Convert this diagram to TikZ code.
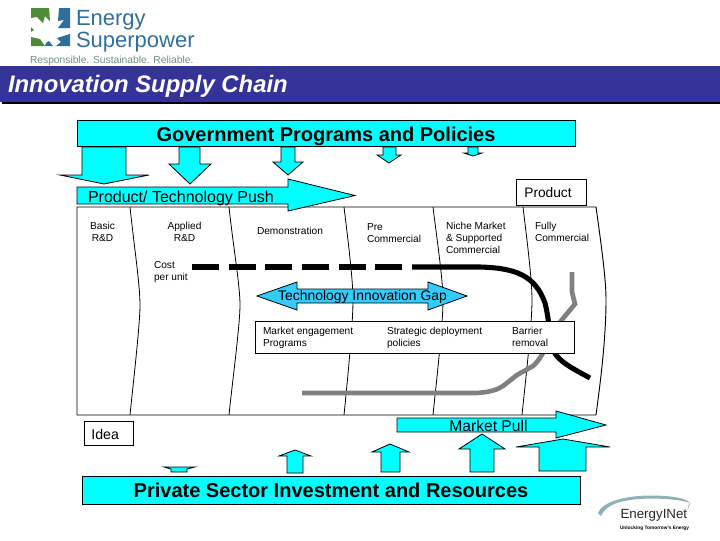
\documentclass[tikz,border=0pt]{standalone}
\usepackage{fontspec}
\setmainfont{Liberation Sans}
\definecolor{cy}{HTML}{00FFFF}
\definecolor{gapc}{HTML}{33CCFF}
\definecolor{banner}{HTML}{333399}
\definecolor{greyc}{HTML}{808080}
\definecolor{logob}{HTML}{2F6F9F}
\definecolor{logog}{HTML}{4F8A3A}
\definecolor{logot}{HTML}{6F8F7F}
\definecolor{swoosh}{HTML}{8FB0B8}
\tikzset{
 px/.style={inner sep=0pt,outer sep=0pt},
 small/.style={px,font=\fontsize{7.6pt}{9pt}\selectfont,align=left,anchor=north west},
 bigbox/.style={draw=black,fill=cy,line width=0.7pt,px},
 plainbox/.style={draw=black,fill=white,line width=0.7pt,px},
 cyarrow/.style={draw=black,fill=cy,line width=0.6pt,line join=miter},
 divider/.style={draw=black,line width=0.6pt},
}
\begin{document}
\begin{tikzpicture}[x=0.75pt,y=-0.75pt]
\useasboundingbox (0,0) rectangle (720,540);
% logo
\fill[logog] (31,8) -- (49,8) -- (50,21) -- (45,16) -- (43,23) -- (37,17) -- (31,18) -- cycle;
\fill[logob] (59,8) -- (70,8) -- (70,28) -- (58,28) -- (64,20) -- (58,21) -- cycle;
\fill[logog] (31,27) -- (34,30) -- (31,32) -- cycle;
\fill[logog] (31,37) -- (40,39) -- (45,46) -- (31,46) -- cycle;
\fill[logob] (57,38) -- (70,34) -- (70,46) -- (56,46) -- (61,42) -- cycle;
\fill[logob] (46,43) -- (49,41) -- (53,46) -- (45,46) -- cycle;
\node[px,text=logob,font=\fontsize{16.5pt}{18pt}\selectfont,anchor=base west] (lgE) at (76,25) {Energy};
\node[px,text=logob,font=\fontsize{16.5pt}{18pt}\selectfont,anchor=base west] (lgS) at (76,47) {Superpower};
\node[px,text=logot,font=\fontsize{7.7pt}{8pt}\selectfont,anchor=base west] (lgT) at (30,63) {Responsible. Sustainable. Reliable.};
% banner
\fill[black] (2,68) rectangle (720,104);
\fill[banner] (0,66) rectangle (720,102);
\node[px,text=white,font=\fontsize{17.9pt}{20pt}\selectfont\bfseries\itshape,anchor=base west] (title) at (8,92) {Innovation Supply Chain};
% gov arrows
\draw[cyarrow] (82,147) -- (82,175) -- (60,175) -- (104,184) -- (149,175) -- (126,175) -- (126,147) -- cycle;
\draw[cyarrow] (179,147) -- (179,164) -- (169,164) -- (190,184) -- (211,164) -- (200,164) -- (200,147) -- cycle;
\draw[cyarrow] (281,147) -- (281,162) -- (273,162) -- (288,175) -- (303,162) -- (295,162) -- (295,147) -- cycle;
\draw[cyarrow] (383,147) -- (383,155) -- (377,155) -- (389,163) -- (401,155) -- (396,155) -- (396,147) -- cycle;
\draw[cyarrow] (468,147) -- (468,153) -- (464,153) -- (473,156) -- (482,153) -- (478,153) -- (478,147) -- cycle;
\node[bigbox,minimum width=498*0.75pt,text height=16.1pt,text depth=4.1pt,anchor=north west,font=\fontsize{15pt}{17pt}\selectfont\bfseries] (gov) at (77,120) {Government Programs and Policies};
% main frame
\draw[line width=0.7pt,fill=white] (77,207) -- (596,207) .. controls (602,250) and (606,280) .. (606,300) .. controls (606,340) and (600,385) .. (596,415) -- (77,415) -- cycle;
\draw[divider] (130,207) .. controls (134,245) and (140,285) .. (140,305) .. controls (140,325) and (133,385) .. (130,415);
\draw[divider] (229,207) .. controls (233,245) and (240,285) .. (240,305) .. controls (240,325) and (232,385) .. (229,415);
\draw[divider] (344,207) .. controls (348,240) and (353,280) .. (353,300) .. controls (353,325) and (347,385) .. (344,415);
\draw[divider] (433,207) .. controls (437,240) and (443,280) .. (443,300) .. controls (443,325) and (436,385) .. (433,415);
\draw[divider] (523,207) .. controls (527,240) and (532,280) .. (532,300) .. controls (532,325) and (525,385) .. (522,415);
% push
\draw[cyarrow] (77,187) -- (288,187) -- (288,179) -- (355,195.5) -- (288,211) -- (288,204) -- (77,204) -- cycle;
\node[px,font=\fontsize{12pt}{14pt}\selectfont,anchor=base west] (push) at (88,202) {Product/ Technology Push};
\node[plainbox,minimum width=70*0.75pt,text height=13.5pt,text depth=6pt,anchor=north west,font=\fontsize{10.3pt}{12pt}\selectfont] (product) at (516,179) {\hspace{-4.5pt}Product};
% stage labels
\node[small,align=center,anchor=north] (s1) at (102.5,222) {Basic\\R\&D};
\node[small,align=center,anchor=north] (s2) at (184.5,222) {Applied\\R\&D};
\node[small] (s3) at (257,227) {Demonstration};
\node[small] (s4) at (367,224) {Pre\\Commercial};
\node[small] (s5) at (446,222) {Niche Market\\\& Supported\\Commercial};
\node[small] (s6) at (535,222) {Fully\\Commercial};
\node[small] (cost) at (154,261) {Cost\\per unit};
% curves
\coordinate (bk0) at (192,267);
\coordinate (bk1) at (412,267);
\coordinate (bk2) at (590,378);
\draw[line width=3.8pt,dash pattern=on 20.25pt off 7.27pt] (bk0) -- (bk1);
\draw[line width=3.8pt] (bk1) -- (480,267) .. controls (515,268) and (535,275) .. (545,303) .. controls (548,315) and (549,325) .. (551,345) .. controls (555,360) and (570,367) .. (bk2);
\coordinate (gr0) at (302,393);
\coordinate (gr1) at (572,272);
\draw[line width=3.5pt,greyc] (gr0) -- (477,393) .. controls (490,392) and (497,390) .. (503,386) -- (517,375) -- (533,366) .. controls (540,360) and (545,350) .. (550,338) -- (560,322) -- (575,304) -- (572,292) -- (gr1);
% gap arrow
\draw[draw=black,fill=gapc,line width=0.6pt] (257,296) -- (297,282) -- (297,289) -- (428,289) -- (428,282) -- (467,296) -- (428,310) -- (428,303) -- (297,303) -- (297,310) -- cycle;
\node[px,font=\fontsize{10.45pt}{12pt}\selectfont] (gap) at (362.5,296.5) {Technology Innovation Gap};
% engagement box
\node[plainbox,minimum width=319*0.75pt,minimum height=32*0.75pt,anchor=north west] (eng) at (255,321) {};
\node[small] (m1) at (263,327) {Market engagement\\Programs};
\node[small] (m2) at (387,327) {Strategic deployment\\policies};
\node[small] (m3) at (512,327) {Barrier\\removal};
% up arrows
\draw[cyarrow] (171,472) -- (171,469) -- (164,467) -- (195,467) -- (187,469) -- (187,472) -- cycle;
\draw[cyarrow] (287,473) -- (287,456) -- (279,456) -- (295,450) -- (311,456) -- (303,456) -- (303,473) -- cycle;
\draw[cyarrow] (381,472) -- (381,452) -- (372,452) -- (390,444) -- (409,452) -- (400,452) -- (400,472) -- cycle;
\draw[cyarrow] (470,472) -- (470,449) -- (459,449) -- (482,434) -- (505,449) -- (494,449) -- (494,472) -- cycle;
\draw[cyarrow] (539,471) -- (539,447) -- (516,447) -- (563,439) -- (610,447) -- (586,447) -- (586,471) -- cycle;
% pull
\draw[cyarrow] (397,418) -- (556,418) -- (556,411) -- (606,425) -- (556,438) -- (556,432) -- (397,432) -- cycle;
\node[px,font=\fontsize{11.7pt}{13pt}\selectfont] (pull) at (488.5,425.5) {Market Pull};
\node[plainbox,minimum width=49*0.75pt,text height=13.7pt,text depth=5pt,anchor=north west,font=\fontsize{10.6pt}{12pt}\selectfont] (idea) at (84,421) {\hspace{-5pt}Idea};
\node[bigbox,minimum width=498*0.75pt,text height=15.75pt,text depth=5.25pt,anchor=north west,font=\fontsize{15pt}{17pt}\selectfont\bfseries] (priv) at (82,476) {Private Sector Investment and Resources};
% EnergyINet logo
\fill[swoosh] (598,513) .. controls (602,502) and (625,495) .. (655,495.5) .. controls (672,496) and (686,498) .. (690,503) .. controls (680,499) and (650,497) .. (630,500) .. controls (615,502) and (605,507) .. (601,516) -- cycle;
\draw[swoosh,line width=0.5pt] (690,503) -- (688,508);
\node[px,font=\fontsize{10pt}{12pt}\selectfont,text=black!85,anchor=base west] (inet) at (620.5,518) {EnergyINet};
\node[px,font=\fontsize{3.6pt}{4pt}\selectfont\bfseries,anchor=base west] (inet2) at (620,529) {Unlocking Tomorrow's Energy};
\end{tikzpicture}
\end{document}
